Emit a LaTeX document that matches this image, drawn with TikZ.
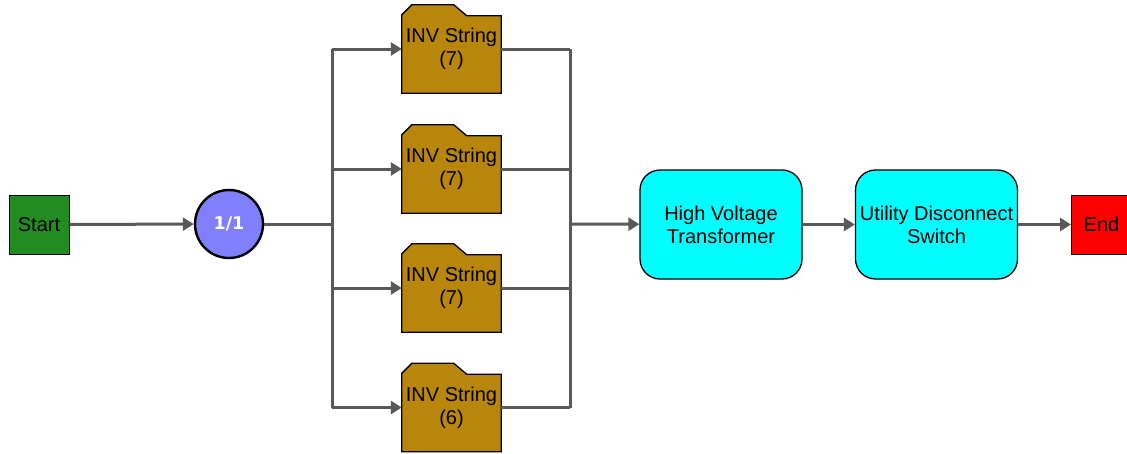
\documentclass[tikz,border=0pt]{standalone}
\usepackage{fontspec}
\setmainfont{Liberation Sans}
\newfontfamily\dvsans{DejaVu Sans}
\usetikzlibrary{arrows.meta,calc,backgrounds}
\definecolor{linegray}{HTML}{595959}
\definecolor{startgreen}{HTML}{228B22}
\definecolor{invgold}{HTML}{B8860B}
\definecolor{circblue}{HTML}{8080FF}
\definecolor{boxcyan}{HTML}{00FFFF}
\definecolor{endred}{HTML}{FF0000}
\tikzset{
  lbl/.style={font=\fontsize{20}{23}\selectfont, align=center, text=black},
  termbox/.style={lbl, draw=black, line width=1pt, minimum width=60pt, minimum height=59pt, inner sep=0pt},
  invnode/.style={lbl, minimum width=99pt, minimum height=88pt, inner sep=0pt},
  folder/.style={fill=invgold, draw=black, line width=1.3pt, line join=miter},
  procbox/.style={lbl, draw=black, line width=1.3pt, fill=boxcyan, rounded corners=20pt, minimum width=162pt, minimum height=109pt, inner sep=0pt},
  conn/.style={draw=linegray, line width=3pt, -{Triangle[length=11pt,width=13pt]}},
  wire/.style={draw=linegray, line width=3pt},
}
\begin{document}
\begin{tikzpicture}[x=1pt,y=-1pt]
\useasboundingbox (0,0) rectangle (1127,453);
\node[termbox, fill=startgreen] (start) at (39,224.5) {Start};
\node[circle, draw=black, line width=2.4pt, fill=circblue, minimum size=68pt, inner sep=0pt, text=white, font=\dvsans\bfseries\fontsize{17.5}{19}\selectfont] (circ) at (229,224) {1/1};
\node[invnode] (i1) at (451.5,49) {INV String\\(7)};
\node[invnode] (i2) at (451.5,169) {INV String\\(7)};
\node[invnode] (i3) at (451.5,288) {INV String\\(7)};
\node[invnode] (i4) at (451.5,407.5) {INV String\\(6)};
\node[procbox] (hvt) at (721,224.5) {High Voltage\\Transformer};
\node[procbox] (uds) at (936.5,224.5) {Utility Disconnect\\Switch};
\node[termbox, fill=endred, anchor=west] (end) at (1071,224.5) {End};
\coordinate (j) at (332,224);
\coordinate (jt) at (332,49);
\coordinate (jb) at (332,407.5);
\coordinate (k) at (570,224);
\coordinate (kt) at (570,49);
\coordinate (kb) at (570,407.5);
\begin{scope}[on background layer]
\foreach \n in {i1,i2,i3,i4}{
  \path[folder] ($(\n.north west)+(0,10)$) -- ($(\n.north west)+(10,0)$) -- ($(\n.north west)+(52,0)$) -- ($(\n.north west)+(65,11)$) -- ($(\n.north east)+(0,11)$) -- (\n.south east) -- (\n.south west) -- cycle;
}
\end{scope}
\draw[conn] (start) -- (circ);
\draw[wire] (circ) -- (j);
\draw[wire] (jt) -- (jb);
\draw[wire] (kt) -- (kb);
\foreach \n in {i1,i2,i3,i4}{
  \draw[conn] (jt |- \n.west) -- (\n.west);
  \draw[wire] (\n.east) -- (kt |- \n.east);
}
\draw[conn] (k) -- (hvt);
\draw[conn] (hvt) -- (uds);
\draw[conn] (uds) -- (end);
\end{tikzpicture}
\end{document}
